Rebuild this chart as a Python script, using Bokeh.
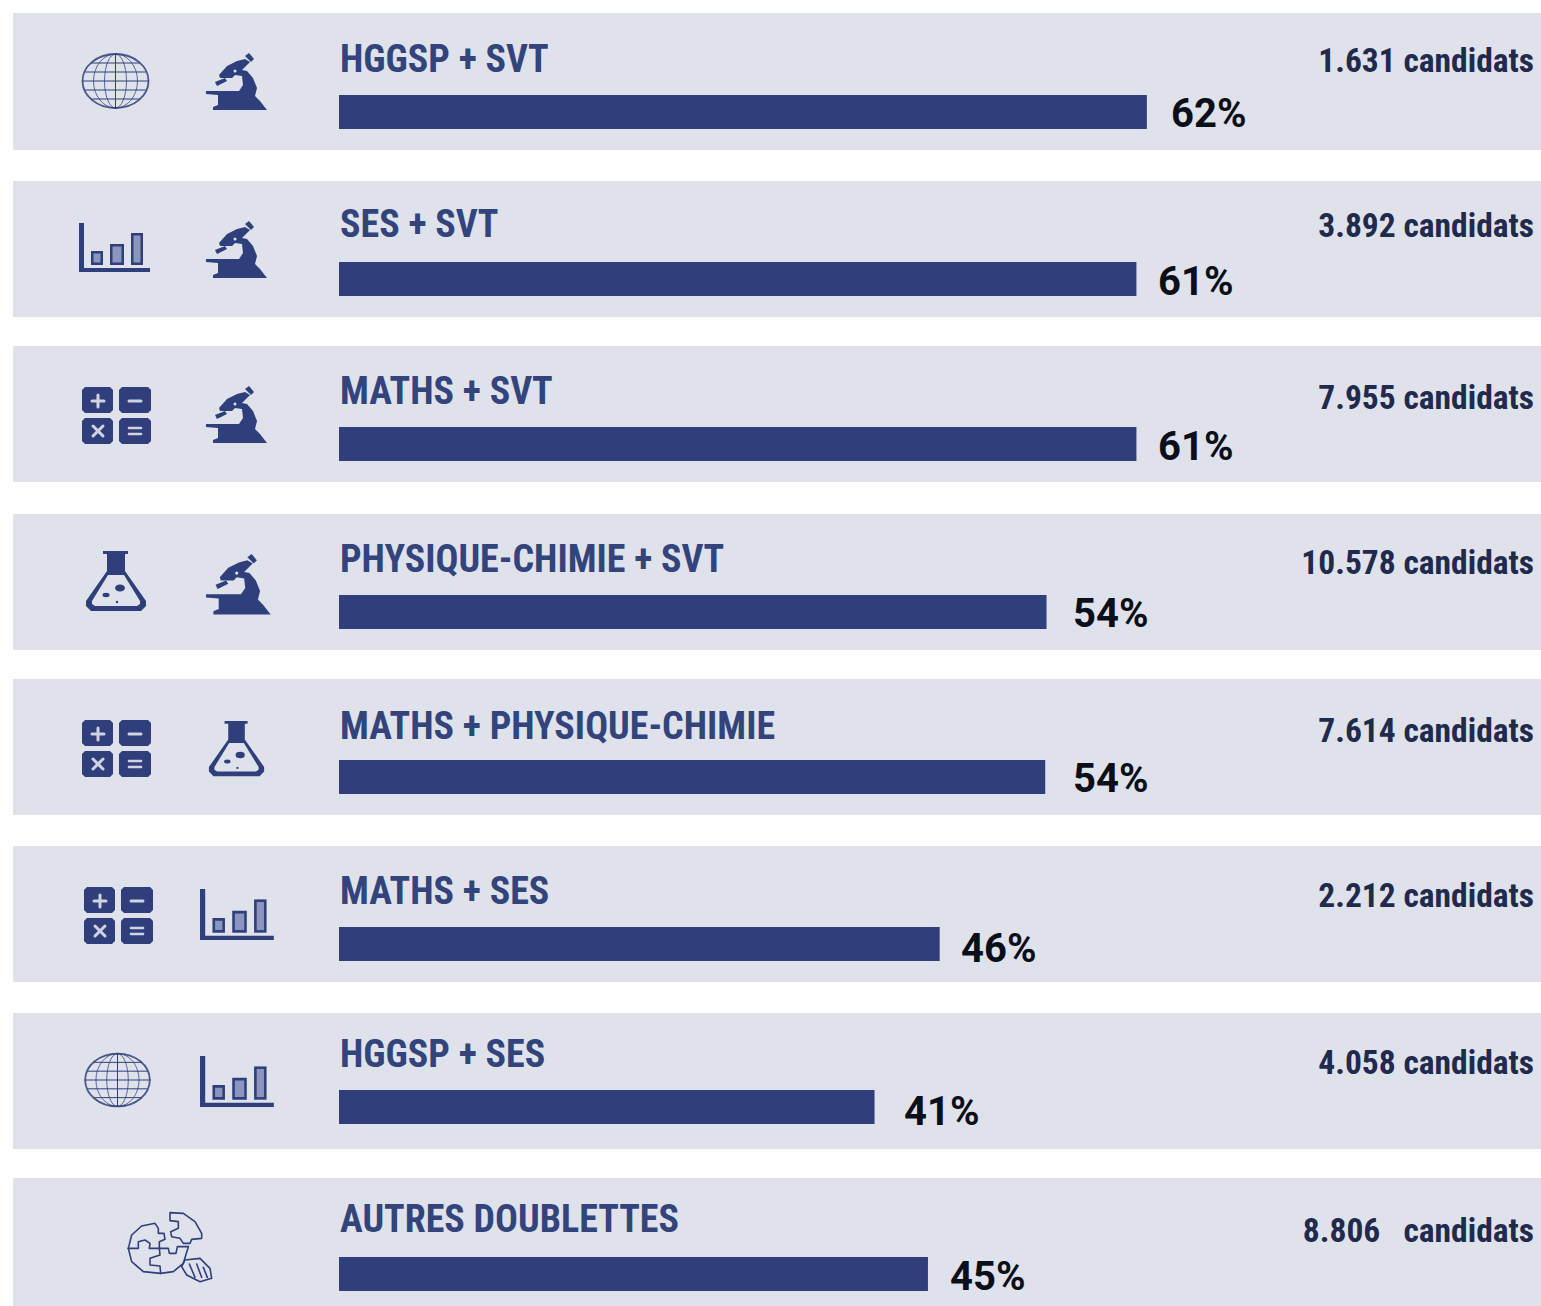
from bokeh.plotting import figure
from bokeh.models import Range1d, ColumnDataSource
from bokeh.core.properties import value
from bokeh.embed import file_html
from bokeh.resources import INLINE

# ---------- chart values ----------
labels = ["HGGSP + SVT", "SES + SVT", "MATHS + SVT", "PHYSIQUE-CHIMIE + SVT",
          "MATHS + PHYSIQUE-CHIMIE", "MATHS + SES", "HGGSP + SES", "AUTRES DOUBLETTES"]
percent_labels = ["62%", "61%", "61%", "54%", "54%", "46%", "41%", "45%"]
bar_values = [62.0, 61.2, 61.2, 54.3, 54.2, 46.1, 41.1, 45.2]
candidates = ["1.631 candidats", "3.892 candidats", "7.955 candidats", "10.578 candidats",
              "7.614 candidats", "2.212 candidats", "4.058 candidats", "8.806\u00a0\u00a0 candidats"]
left_icons = ["globe", "chart", "calc", "flask", "calc", "calc", "globe", "puzzle"]
right_icons = ["scope", "scope", "scope", "scope", "flask", "chart", "chart", None]

# ---------- layout (page pixels) ----------
W, H = 1541, 1306
BAR_X0 = 339
PX_PER_PCT = 13.03
panel_top = [13, 181, 346, 514, 679, 846, 1013, 1178]
panel_bot = [150, 317, 482, 650, 815, 982, 1149, 1307]
bar_top = [95, 262, 427, 595, 760, 927, 1090, 1257]
title_y = [59, 224, 391, 559, 726, 891, 1054, 1219]
cand_y = [60, 225, 397, 562, 730, 895, 1062, 1230]
pct_y = [113, 281, 446, 613, 778, 948, 1111, 1276]
pct_x = [1171, 1158, 1158, 1073, 1073, 961, 904, 950]

PANEL = "#dfe2eb"
NAVY = "#2f3f7b"
TITLE = "#33447c"
CAND = "#1f2a4d"
FONT = value("Roboto Condensed")


def X(px):
    return (px - BAR_X0) / PX_PER_PCT


p = figure(width=W, height=H, output_backend="svg", toolbar_location=None,
           x_range=Range1d(X(0.5), X(W + 0.5)), y_range=Range1d(H + 0.5, 0.5),
           x_axis_type=None, y_axis_type=None, min_border=0,
           outline_line_color=None, background_fill_color="white")
p.grid.visible = False

p.quad(left=[X(13)] * 8, right=[X(1543)] * 8, top=panel_top,
       bottom=panel_bot, fill_color=PANEL, line_color=None)

bars = ColumnDataSource(dict(v=bar_values, top=bar_top, bot=[t + 34 for t in bar_top]))
p.quad(left=0, right="v", top="top", bottom="bot", source=bars, fill_color=NAVY, line_color=None)

p.text(x=[X(340)] * 8, y=title_y, text=labels, text_font=FONT,
       text_font_style="bold", text_font_size="38px", text_color=TITLE, text_baseline="middle")
p.text(x=[X(1534)] * 8, y=cand_y, text=candidates, text_font=FONT, text_font_style="bold",
       text_font_size="33.5px", text_color=CAND, text_align="right", text_baseline="middle")
p.text(x=[X(v) for v in pct_x], y=pct_y, text=percent_labels, text_font=value("Roboto"),
       text_font_style="bold", text_font_size="40px", text_color="#0b0f1a", text_baseline="middle")


# ---------- icons, drawn in local pixel coordinates ----------
def poly(ox, oy, s, pts, color=NAVY):
    p.patch([X(ox + s * a) for a, b in pts], [oy + s * b for a, b in pts],
            fill_color=color, line_color=None)


def line(ox, oy, s, pts, w=1.5, color=NAVY):
    p.line([X(ox + s * a) for a, b in pts], [oy + s * b for a, b in pts],
           line_color=color, line_width=w, line_join="round", line_cap="round")


def oval(cx, cy, w, h, lw=1.0):
    p.ellipse(x=[X(cx)], y=[cy], width=[w / PX_PER_PCT], height=[h],
              fill_color=None, line_color=NAVY, line_width=lw, line_alpha=0.85)


def globe(cx, cy, sx=1.0):
    oval(cx, cy, 66 * sx, 54 * sx, 1.8)
    for w in (44, 22):
        oval(cx, cy, w * sx, 54 * sx, 0.9)
    line(cx, cy, sx, [(0, -27), (0, 27)], 1.0)
    for dy, half in ((0, 33), (-9, 30), (9, 30), (-18, 24), (18, 24)):
        line(cx, cy, sx, [(-half, dy), (half, dy)], 1.0)


def scope(ox, oy, s=1.0):
    # origin is the top left of a 62 x 58 box
    poly(ox, oy, s, [(39, 3), (43, 0), (48, 6), (45, 9)])
    poly(ox, oy, s, [(13, 22), (21, 13), (31, 8), (39, 6), (44, 9), (36, 17), (41, 18), (47, 25), (51, 35),
                     (49, 43), (54, 48), (61, 57), (7, 57), (7, 54), (12, 52), (12, 42), (0, 41), (0, 38),
                     (33, 38), (37, 32), (36, 23), (29, 22), (26, 25), (19, 25), (14, 25)])
    poly(ox, oy, s, [(9, 29), (19, 25), (21, 28), (11, 33)])
    p.ellipse(x=[X(ox + s * 29)], y=[oy + s * 18], width=[3 * s / PX_PER_PCT], height=[3 * s],
              fill_color=PANEL, line_color=None)


def chart(ox, oy, s=1.0):
    # origin is the top left of a 71 x 50 box
    poly(ox, oy, s, [(0, 0), (5, 0), (5, 45), (71, 45), (71, 49), (0, 49)])
    for x0, x1, y0 in ((12, 24, 28), (31, 45, 21), (52, 64, 10)):
        poly(ox, oy, s, [(x0, y0), (x1, y0), (x1, 42), (x0, 42)])
        poly(ox, oy, s, [(x0 + 2.5, y0 + 2.5), (x1 - 2.5, y0 + 2.5), (x1 - 2.5, 39.5), (x0 + 2.5, 39.5)], "#8b95bd")


def calc(ox, oy, s=1.0):
    # origin is the top left of a 69 x 57 box
    for x0, y0, x1, y1 in ((0, 0, 31, 26), (37, 0, 69, 26), (0, 31, 31, 57), (37, 31, 69, 57)):
        poly(ox, oy, s, [(x0 + 3, y0), (x1 - 3, y0), (x1, y0 + 3), (x1, y1 - 3),
                         (x1 - 3, y1), (x0 + 3, y1), (x0, y1 - 3), (x0, y0 + 3)])
    light = "#cfd3e2"
    line(ox, oy, s, [(10, 14), (22, 14)], 3, light)
    line(ox, oy, s, [(16, 8), (16, 20)], 3, light)
    line(ox, oy, s, [(47, 14), (59, 14)], 3, light)
    line(ox, oy, s, [(11, 39), (21, 49)], 3, light)
    line(ox, oy, s, [(21, 39), (11, 49)], 3, light)
    line(ox, oy, s, [(47, 41), (59, 41)], 2.6, light)
    line(ox, oy, s, [(47, 47), (59, 47)], 2.6, light)


def flask(ox, oy, s=1.0):
    # origin is the top left of a 62 x 61 box
    poly(ox, oy, s, [(18, 0), (43, 0), (43, 3), (40, 3), (40, 20), (61, 50), (61, 55), (56, 60),
                     (6, 60), (1, 55), (1, 50), (22, 20), (22, 3), (18, 3)])
    poly(ox, oy, s, [(23, 24), (39, 24), (55, 50), (55, 53), (52, 55), (10, 55), (7, 53), (7, 50)], PANEL)
    for cx, cy, rx, ry in ((35, 37, 5, 3.5), (21, 44, 3.5, 2.2), (32, 51, 1.2, 1.2)):
        p.ellipse(x=[X(ox + s * cx)], y=[oy + s * cy], width=[2 * s * rx / PX_PER_PCT], height=[2 * s * ry],
                  fill_color=NAVY, line_color=None)


def puzzle(ox, oy, s=1 / 3):
    for pts in (
        [(85, 175), (95, 135), (125, 108), (165, 100), (175, 115), (175, 130), (192, 130), (195, 148),
         (178, 155), (178, 175)],
        [(85, 175), (115, 175), (115, 155), (135, 150), (150, 160), (148, 175), (205, 175), (208, 190),
         (228, 190), (232, 170), (265, 170)],
        [(178, 175), (180, 195), (150, 205), (150, 225), (180, 228), (182, 250)],
        [(85, 175), (95, 215), (130, 245), (182, 250), (220, 245), (250, 220), (265, 170)],
        [(210, 68), (250, 70), (285, 95), (305, 130), (305, 145), (275, 148), (270, 160), (250, 160),
         (240, 145), (215, 140), (212, 125), (235, 115), (235, 95), (210, 92), (210, 68)],
        [(255, 210), (300, 205), (330, 235), (335, 265), (300, 275), (260, 255), (245, 230), (255, 210)],
        [(268, 222), (285, 262)], [(290, 222), (305, 262)], [(310, 232), (322, 262)],
    ):
        line(ox, oy, s, pts, 1.6)


def draw_icon(kind, slot, row):
    top = panel_top[row]
    if kind == "globe":
        globe(115.5 if row == 0 else 117.5, top + 68 if row == 0 else top + 67, 1.0 if row == 0 else 0.98)
    elif kind == "scope":
        s = 1.06 if row == 3 else 1.0
        scope(206, top + 40, s)
    elif kind == "chart":
        if slot == 0:
            chart(79, top + 42)
        else:
            chart(200, top + 43, 1.04)
    elif kind == "calc":
        calc(82 if row != 5 else 84, top + 41, 1.0)
    elif kind == "flask":
        if slot == 0:
            flask(85, top + 37)
        else:
            flask(208, top + 42, 0.92)
    elif kind == "puzzle":
        puzzle(100, 1190)


for row in range(8):
    draw_icon(left_icons[row], 0, row)
    if right_icons[row]:
        draw_icon(right_icons[row], 1, row)

open("out.html", "w").write(file_html(p, INLINE))
